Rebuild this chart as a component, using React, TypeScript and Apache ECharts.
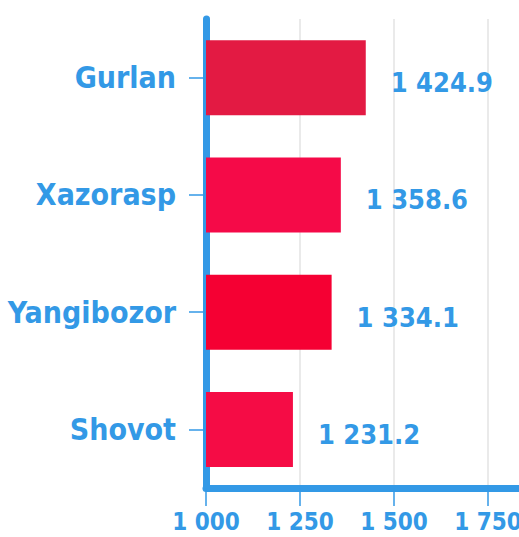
import React, { useEffect, useRef } from "react";
import * as echarts from "echarts";

const categories = ["Gurlan", "Xazorasp", "Yangibozor", "Shovot"];
const values = [1424.9, 1358.6, 1334.1, 1231.2];
const barColors = ["#e31a43", "#f50a48", "#f50033", "#f50c45"];
const axisMin = 1000;
const axisMax = 2000;
const axisInterval = 250;

const BLUE = "#3399e6";
const FONT = "'DejaVu Sans Condensed', 'Liberation Sans Narrow', Arial, sans-serif";

function fmt(v: number, decimals: number): string {
  const s = v.toFixed(decimals);
  const [i, d] = s.split(".");
  const ii = i.replace(/\B(?=(\d{3})+(?!\d))/g, " ");
  return d !== undefined ? ii + "." + d : ii;
}

export default function App() {
  const ref = useRef<HTMLDivElement>(null);
  useEffect(() => {
    document.body.style.margin = "0";
    if (!ref.current) return;
    const chart = echarts.init(ref.current, null, { renderer: "svg" });
    chart.setOption({
      animation: false,
      backgroundColor: "#ffffff",
      grid: {
        left: 206,
        right: -63,
        top: 19,
        bottom: 49,
        containLabel: false,
        outerBoundsMode: "none",
      },
      xAxis: {
        type: "value",
        min: axisMin,
        max: axisMax,
        interval: axisInterval,
        axisLine: { show: true, lineStyle: { color: BLUE, width: 7 } },
        axisTick: { show: true, length: 18, lineStyle: { color: BLUE, width: 1.5 } },
        splitLine: { show: true, lineStyle: { color: "#e3e3e3", width: 1.5 } },
        axisLabel: {
          color: BLUE,
          fontFamily: FONT,
          fontWeight: "bold",
          fontSize: 24,
          lineHeight: 20,
          margin: 24,
          showMinLabel: true,
          showMaxLabel: false,
          hideOverlap: false,
          formatter: (v: number) => fmt(v, 0),
        },
      },
      yAxis: {
        type: "category",
        data: categories,
        inverse: true,
        axisLine: { show: true, lineStyle: { color: BLUE, width: 7 } },
        axisTick: { show: true, alignWithLabel: true, length: 17, lineStyle: { color: BLUE, width: 1.5 } },
        axisLabel: {
          color: BLUE,
          fontFamily: FONT,
          fontWeight: "bold",
          fontSize: 30,
          margin: 30,
          padding: [8, 0, 0, 0],
        },
        splitLine: { show: false },
      },
      series: [
        {
          type: "bar",
          data: values.map((v, i) => ({ value: v, itemStyle: { color: barColors[i] } })),
          barWidth: 75,
          label: {
            show: true,
            position: "right",
            distance: 25,
            offset: [0, 5],
            color: BLUE,
            fontFamily: FONT,
            fontWeight: "bold",
            fontSize: 27,
            formatter: (p: any) => fmt(p.value, 1),
          },
        },
      ],
    });
    return () => chart.dispose();
  }, []);
  return <div ref={ref} style={{ width: 519, height: 537 }} />;
}
